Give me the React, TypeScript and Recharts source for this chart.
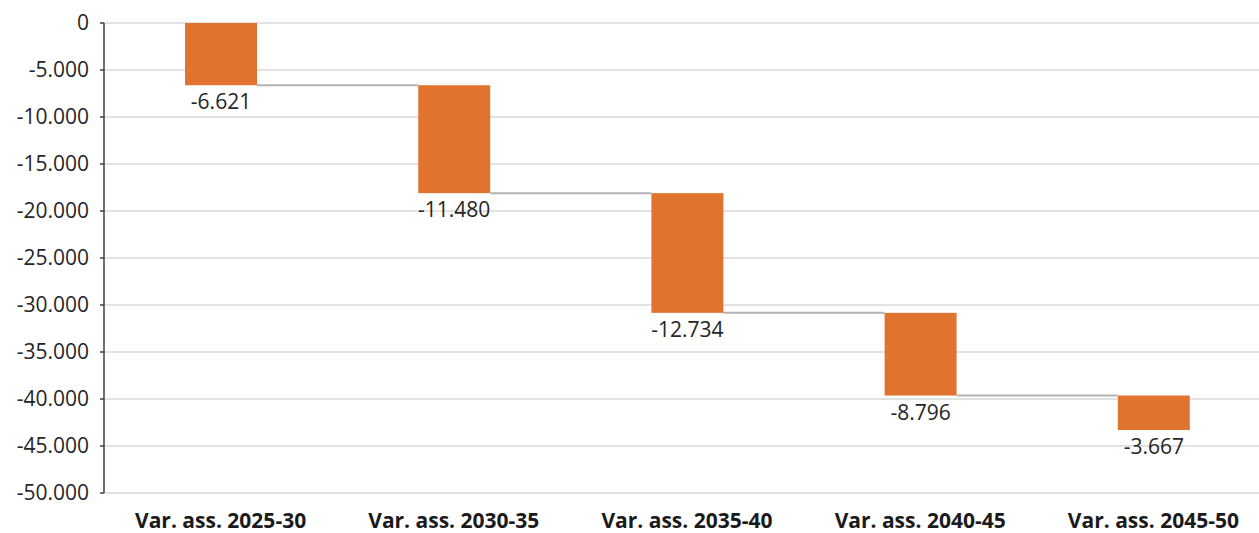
import { BarChart, Bar, XAxis, YAxis, CartesianGrid, LabelList } from "recharts"

const categories = [
    "Var. ass. 2025-30",
    "Var. ass. 2030-35",
    "Var. ass. 2035-40",
    "Var. ass. 2040-45",
    "Var. ass. 2045-50",
]
const deltas = [-6621, -11480, -12734, -8796, -3667]
const yTicks = [0, -5000, -10000, -15000, -20000, -25000, -30000, -35000, -40000, -45000, -50000]

const VIEW_W = 1259
const CHART_W = 1270
const CHART_H = 533
const MARGIN = { top: 23, right: 0, bottom: 0, left: 0 }
const YAXIS_W = 104
const BAR_COLOR = "#E0742F"
const FONT = "'Open Sans', sans-serif"

// running totals -> [start, end] ranges for the floating bars
let running = 0
const data = categories.map((name, i) => {
    const start = running
    running += deltas[i]
    return { name, delta: deltas[i], range: [start, running] }
})

const formatNum = (v: number) => {
    const s = Math.abs(Math.round(v)).toString().replace(/\B(?=(\d{3})+(?!\d))/g, ".")
    return v < 0 ? "-" + s : s
}

const PLOT_W = CHART_W - MARGIN.left - MARGIN.right - YAXIS_W
const BAND = PLOT_W / categories.length

const WaterfallBar = (props: any) => {
    const { x, y, width, height, index } = props
    const top = Math.min(y, y + height)
    const h = Math.abs(height)
    const bottom = top + h
    const isLast = index === categories.length - 1
    return (
        <g>
            {!isLast && (
                <line
                    x1={x + width}
                    x2={x + BAND}
                    y1={bottom}
                    y2={bottom}
                    stroke="#b3b3b3"
                    strokeWidth={2}
                />
            )}
            <rect x={x} y={top} width={width} height={h} fill={BAR_COLOR} />
        </g>
    )
}

const ValueLabel = (props: any) => {
    const { x, y, width, height, value } = props
    const bottom = Math.max(y, y + height)
    return (
        <text
            x={x + width / 2}
            y={bottom + 24}
            textAnchor="middle"
            fontSize={21}
            fontFamily={FONT}
            fill="#262626"
        >
            {formatNum(value)}
        </text>
    )
}

export default function App() {
    return (
        <div
            style={{
                position: "absolute",
                left: 0,
                top: 0,
                width: VIEW_W,
                height: CHART_H,
                overflow: "hidden",
                background: "#fff",
            }}
        >
            <BarChart
                width={CHART_W}
                height={CHART_H}
                data={data}
                margin={MARGIN}
                barSize={72}
            >
                <CartesianGrid vertical={false} stroke="#d9d9d9" strokeWidth={1.5} />
                <XAxis
                    dataKey="name"
                    height={40}
                    axisLine={false}
                    tickLine={false}
                    tickSize={0}
                    tickMargin={20}
                    interval={0}
                    tick={{ fontSize: 21, fontWeight: 700, fontFamily: FONT, fill: "#1a1a1a" }}
                />
                <YAxis
                    width={YAXIS_W}
                    domain={[-50000, 0]}
                    ticks={yTicks}
                    interval={0}
                    tickFormatter={formatNum}
                    axisLine={{ stroke: "#404040", strokeWidth: 1.5 }}
                    tickLine={{ stroke: "#404040", strokeWidth: 1.5 }}
                    tickSize={4}
                    tickMargin={11}
                    tick={{ fontSize: 21, fontFamily: FONT, fill: "#262626" }}
                />
                <Bar dataKey="range" shape={<WaterfallBar />} isAnimationActive={false}>
                    <LabelList dataKey="delta" content={<ValueLabel />} />
                </Bar>
            </BarChart>
        </div>
    )
}
